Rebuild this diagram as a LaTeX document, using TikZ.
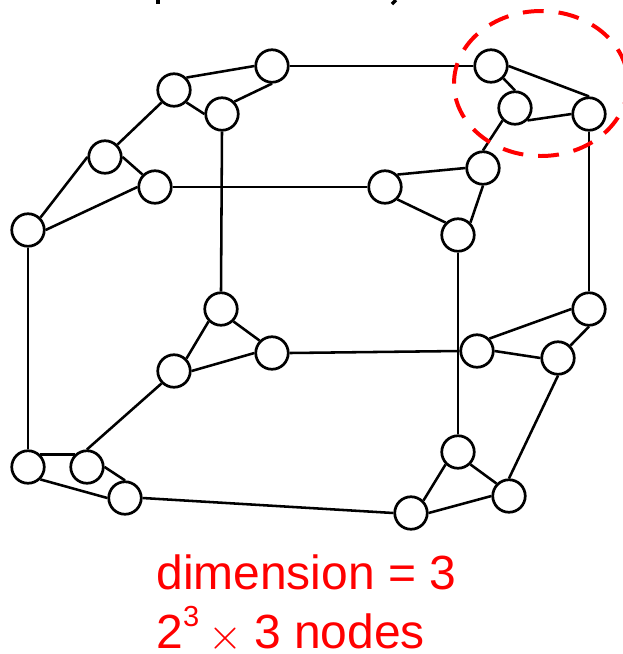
\documentclass[tikz,border=0pt]{standalone}
\usepackage{fontspec}
\setmainfont{Liberation Sans}
\usepackage{tikz}
\usetikzlibrary{calc}
\tikzset{
    vertex/.style={circle, draw=black, fill=white, line width=1.55pt, minimum size=0.65cm, inner sep=0pt},
    link/.style={line width=1.45pt, black},
    caption/.style={text=red, font=\fontsize{27.3}{32}\selectfont, anchor=base west, inner sep=0pt}
}
\begin{document}
\begin{tikzpicture}[x=0.02cm, y=-0.02cm]
    \useasboundingbox (0,0) rectangle (623,654);

    % Top triangles
    \node[vertex] (a1) at (174,90) {};
    \node[vertex] (a2) at (272,66) {};
    \node[vertex] (a3) at (222,114) {};
    \node[vertex] (b1) at (491,66) {};
    \node[vertex] (b2) at (515,108) {};
    \node[vertex] (b3) at (589,114) {};

    % Middle triangles
    \node[vertex] (c1) at (105,157) {};
    \node[vertex] (c2) at (155,187) {};
    \node[vertex] (c3) at (28,230) {};
    \node[vertex] (d1) at (385,187) {};
    \node[vertex] (d2) at (483,168) {};
    \node[vertex] (d3) at (458,235) {};
    \node[vertex] (e1) at (221,309) {};
    \node[vertex] (e2) at (272,353) {};
    \node[vertex] (e3) at (174,371) {};
    \node[vertex] (f1) at (589,309) {};
    \node[vertex] (f2) at (477,351) {};
    \node[vertex] (f3) at (558,358) {};

    % Bottom triangles
    \node[vertex] (g1) at (28,467) {};
    \node[vertex] (g2) at (87,467) {};
    \node[vertex] (g3) at (125,498) {};
    \node[vertex] (h1) at (458,452) {};
    \node[vertex] (h2) at (411,513) {};
    \node[vertex] (h3) at (509,496) {};

    % Edges inside the triangles
    \foreach \from/\to in {a1.north east/a2.west, a2.south/a3.north east, a1.south east/a3.west,
        b1.south east/b2.north, b1.east/b3.north, b2.south east/b3.west,
        c1.east/c2.north west, c1.west/c3.north east, c2.west/c3.east,
        d1.north east/d2.west, d1.south east/d3.north west, d2.south/d3.north east,
        e1.south east/e2.north west, e1.south west/e3.north east, e2.west/e3.east,
        f1.west/f2.north east, f1.south/f3.north east, f2.east/f3.west,
        g1.north east/g2.north west, g1.south east/g3.west, g2.east/g3.north,
        h1.south west/h2.north east, h1.south east/h3.north west, h2.east/h3.west}
        \draw[link] (\from) -- (\to);

    % Edges between the triangles
    \foreach \from/\to in {a2.east/b1.west, a1.south west/c1.north east, a3.south/e1.north,
        b2.south west/d2.north, b3.south/f1.north, c2.east/d1.west, c3.south/g1.north,
        d3.south/h1.north, e2.east/f2.west, e3.south west/g2.north, f3.south/h3.north,
        g3.east/h2.west}
        \draw[link] (\from) -- (\to);

    % Highlight
    \draw[red, line width=2.27pt, dash pattern=on 11.9pt off 8.5pt] (541,83.5) ellipse (87 and 72.5);

    % Cut-off marks at the top edge
    \fill (156,0) rectangle (160,4);
    \draw[line width=2pt] (396,0) -- (392,4);

    \node[caption] (dim) at (156,589) {dimension = 3};
    \node[caption] (cnt) at (156,648) {2\raisebox{0.44em}{\fontsize{16.5}{16.5}\selectfont 3}\hspace{0.2em}\raisebox{-0.03em}{\fontsize{33}{33}\selectfont$\times$}\hspace{0.24em}3 nodes};
\end{tikzpicture}
\end{document}
